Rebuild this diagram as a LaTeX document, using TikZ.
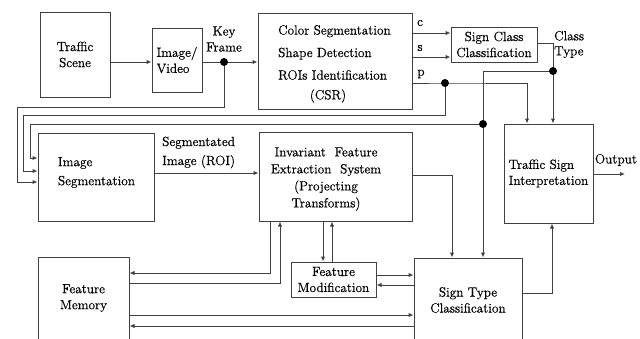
\documentclass[tikz,border=0pt]{standalone}
\usepackage{fontspec}
\setmainfont{Latin Modern Roman}[FakeBold=0.6]
\usetikzlibrary{arrows.meta}
\definecolor{linecol}{RGB}{64,64,64}
\newcommand\diagfont{\rmfamily\fontsize{13.3}{16}\selectfont}
\begin{document}
\begin{tikzpicture}[x=1pt,y=-1pt,
  box/.style={draw=linecol, line width=1pt, inner sep=0pt, font=\diagfont, align=center},
  lbl/.style={font=\diagfont, inner sep=0pt},
  conn/.style={draw=linecol, line width=1pt},
  arr/.style={conn, -{Latex[length=5pt,width=4.5pt]}},
  junction/.style={circle, fill=black, inner sep=0pt, minimum size=8pt},
]
\useasboundingbox (0,0) rectangle (640,338);
\clip (0,0) rectangle (640,338);

% blocks
\node[box, minimum width=70, minimum height=85] (ts) at (75,54.5) {Traffic\\Scene};
\node[box, align=left, minimum width=50, minimum height=64] (iv) at (177,60) {Image/\\Video};
\node[box, minimum width=154, minimum height=96] (csr) at (335,61) {};
\node[lbl, align=left, anchor=west, font=\rmfamily\fontsize{13.3}{22.5}\selectfont] (csrtext) at (278,52.5)
  {Color Segmentation\\Shape Detection\\ROIs Identification};
\node[lbl] (csrtag) at (328,96) {(CSR)};
\node[box, minimum width=86, minimum height=35] (scc) at (494,44.5) {Sign Class\\Classification};
\node[box, align=left, minimum width=89, minimum height=99] (tsi) at (548.5,173.5) {Traffic Sign\\Interpretation};
\node[box, minimum width=116, minimum height=88] (is) at (96,177) {};
\node[lbl, align=left, font=\rmfamily\fontsize{13.3}{19}\selectfont] (istext) at (96.5,172.5) {Image\\Segmentation};
\node[box, minimum width=153, minimum height=89] (ifes) at (335.5,176.5) {};
\node[lbl, align=center, font=\rmfamily\fontsize{13.3}{17}\selectfont] (ifestext) at (326,179)
  {Invariant\ \ Feature\\Extraction\ \ System\\(Projecting\\Transforms)};
\node[box, minimum width=85, minimum height=35] (fmod) at (333.5,279.5) {Feature\\Modification};
\node[box, minimum width=91, minimum height=82] (fmem) at (83.5,298) {Feature\\Memory};
\node[box, minimum width=108, minimum height=84] (stc) at (468,300) {Sign Type\\Classification};

% junction points
\coordinate (kf) at (224,62);
\coordinate (pj) at (445,83);
\coordinate (ct) at (553,71);
\coordinate (fb) at (483,124);
\coordinate (out) at (625,174);

% connectors
\draw[arr] (ts.east |- kf) -- (iv.west |- kf);
\draw[arr] (iv.east |- kf) -- (csr.west |- kf);
\draw[arr] (kf) -- (kf |- 0,107) -| (17,182) -- (is.west |- 0,182);
\draw[arr] (csr.east |- 0,33) -- (scc.west |- 0,33);
\draw[arr] (csr.east |- 0,57) -- (scc.west |- 0,57);
\draw[arr] (csr.east |- pj) -- (pj) -| (527,0 |- tsi.north);
\draw[arr] (pj) -- (pj |- 0,115) -| (23,171) -- (is.west |- 0,171);
\draw[arr] (scc.east |- 0,43) -| (ct |- tsi.north);
\draw[arr] (ct) -| (fb |- stc.north);
\draw[arr] (fb) -| (30,158) -- (is.west |- 0,158);
\draw[arr] (is.east |- 0,173) -- (ifes.west |- 0,173);
\draw[arr] (ifes.east |- 0,175) -| (452,0 |- stc.north);
\draw[arr] (270,0 |- ifes.south) |- (fmem.east |- 0,273);
\draw[arr] (fmem.east |- 0,283) -| (280,0 |- ifes.south);
\draw[arr] (323,0 |- ifes.south) -- (323,0 |- fmod.north);
\draw[arr] (332,0 |- fmod.north) -- (332,0 |- ifes.south);
\draw[arr] (fmod.east |- 0,275) -- (stc.west |- 0,275);
\draw[arr] (stc.west |- 0,285) -- (fmod.east |- 0,285);
\draw[arr] (fmem.east |- 0,315) -- (stc.west |- 0,315);
\draw[arr] (stc.west |- 0,326) -- (fmem.east |- 0,326);
\draw[arr] (stc.east |- 0,293) -| (552,0 |- tsi.south);
\draw[arr] (tsi.east |- out) -- (out);

% junction dots
\node[junction] (kfdot) at (kf) {};
\node[junction] (pjdot) at (pj) {};
\node[junction] (ctdot) at (ct) {};
\node[junction] (fbdot) at (fb) {};

% signal labels
\node[lbl, align=center] (kflbl) at (224,39) {Key\\Frame};
\node[lbl] (clbl) at (420,23) {c};
\node[lbl] (slbl) at (420,48) {s};
\node[lbl] (plbl) at (421,74) {p};
\node[lbl, align=left, anchor=west, font=\rmfamily\fontsize{13.3}{15}\selectfont] (ctlbl) at (554,44.5) {Class\\Type};
\node[lbl] (outlbl) at (616,160) {Output};
\node[lbl, align=left, anchor=west, font=\rmfamily\fontsize{13.3}{19}\selectfont] (roilbl) at (162,152.5) {Segmentated\\Image (ROI)};
\end{tikzpicture}
\end{document}
